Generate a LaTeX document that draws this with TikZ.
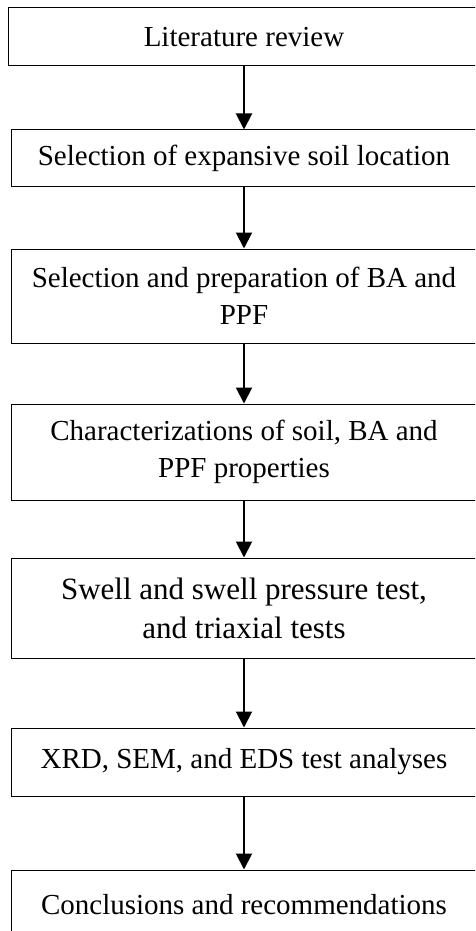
\documentclass[tikz,border=0pt]{standalone}
\usepackage{fontspec}
\setmainfont{Liberation Serif}
\usetikzlibrary{arrows.meta}
\tikzset{
  flowbox/.style={draw=black, line width=1pt, rectangle, inner sep=0pt, align=center,
    font=\fontsize{29pt}{37pt}\selectfont, minimum width=466pt},
  flowarrow/.style={line width=2pt, -{Triangle[width=16pt,length=16pt]}}
}
\begin{document}
\begin{tikzpicture}[x=1pt,y=-1pt]
\clip (0,0) rectangle (475,931);
\fill[white] (0,0) rectangle (475,931);
\node[flowbox, minimum width=472pt, minimum height=58pt] (b1) at (244,37) {Literature review};
\node[flowbox, minimum height=56pt] (b2) at (244,158) {Selection of expansive soil location};
\node[flowbox, minimum height=94pt] (b3) at (244,296) {Selection and preparation of BA and\\PPF};
\node[flowbox, minimum height=96pt] (b4) at (244,452) {Characterizations of soil, BA and\\PPF properties};
\node[flowbox, minimum height=100pt, font=\fontsize{31pt}{39pt}\selectfont] (b5) at (244,608) {Swell and swell pressure test,\\and triaxial tests};
\node[flowbox, minimum height=68pt] (b6) at (244,762) {XRD, SEM, and EDS test analyses};
\node[flowbox, minimum height=70pt] (b7) at (244,905) {Conclusions and recommendations};
\draw[flowarrow] (b1.south) -- (b2.north);
\draw[flowarrow] (b2.south) -- (b3.north);
\draw[flowarrow] (b3.south) -- (b4.north);
\draw[flowarrow] (b4.south) -- (b5.north);
\draw[flowarrow] (b5.south) -- (b6.north);
\draw[flowarrow] (b6.south) -- (b7.north);
\end{tikzpicture}
\end{document}
